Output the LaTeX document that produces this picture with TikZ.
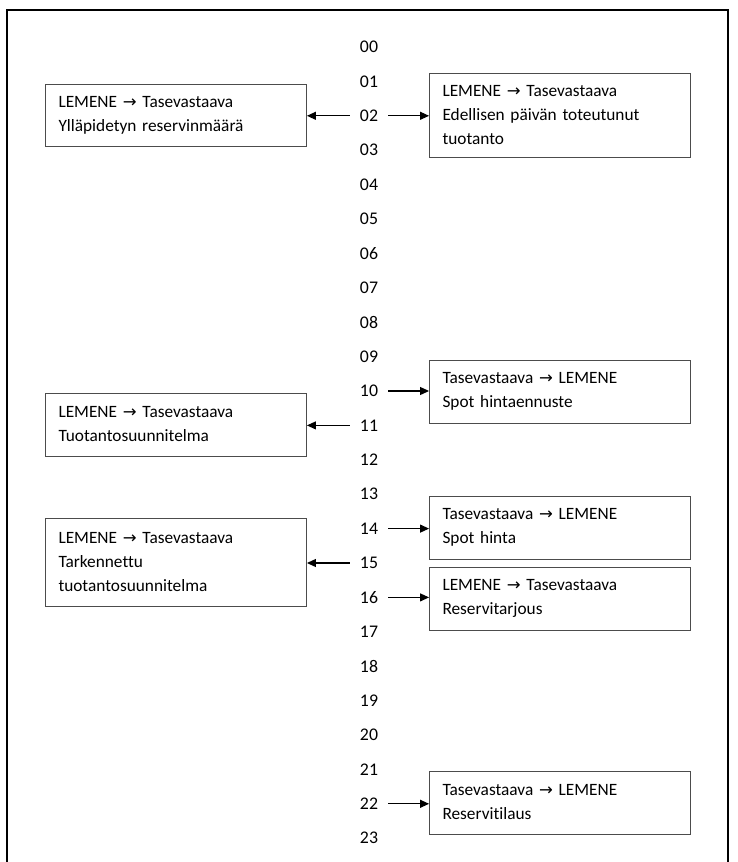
\documentclass[tikz,border=0pt]{standalone}
\usepackage{fontspec}
\setmainfont{Carlito}[Ligatures=NoCommon]
\newfontfamily\symf{DejaVu Sans}
\usetikzlibrary{arrows.meta}
\newcommand{\rarr}{{\symf\fontsize{16.5}{24}\selectfont →}}
\tikzset{
  box/.style={draw=black!70, line width=0.9pt, rectangle, text width=235pt,
    inner xsep=13pt, inner ysep=0pt, align=left, font=\fontsize{17.3}{24}\selectfont},
  num/.style={inner xsep=10pt, inner ysep=2pt, font=\fontsize{17.8}{20}\selectfont},
  arr/.style={-{Triangle[length=9pt,width=8pt]}, line width=1.1pt},
}
\begin{document}
\begin{tikzpicture}[x=1pt,y=-1pt]
\useasboundingbox (0,0) rectangle (737,862);
\draw[line width=1.3pt] (7,862) -- (7,10) -- (728,10) -- (728,862);
\foreach \i/\t in {0/00,1/01,2/02,3/03,4/04,5/05,6/06,7/07,8/08,9/09,10/10,11/11,12/12,13/13,14/14,15/15,16/16,17/17,18/18,19/19,20/20,21/21,22/22,23/23}
  \node[num] (n\t) at (369,47+34.4*\i) {\t};
\node[box, minimum height=62pt] (L1) at (176,115) {LEMENE \rarr{} Tasevastaava\\Ylläpidetyn reservinmäärä};
\node[box, minimum height=84pt] (R1) at (560,115) {LEMENE \rarr{} Tasevastaava\\Edellisen päivän toteutunut\\tuotanto};
\node[box, minimum height=63pt] (R10) at (560,391.5) {Tasevastaava \rarr{} LEMENE\\Spot hintaennuste};
\node[box, minimum height=63pt] (L11) at (176,424.5) {LEMENE \rarr{} Tasevastaava\\Tuotantosuunnitelma};
\node[box, minimum height=63pt] (R14) at (560,527.5) {Tasevastaava \rarr{} LEMENE\\Spot hinta};
\node[box, minimum height=88pt] (L15) at (176,562) {LEMENE \rarr{} Tasevastaava\\Tarkennettu\\tuotantosuunnitelma};
\node[box, minimum height=63pt] (R16) at (560,598.5) {LEMENE \rarr{} Tasevastaava\\Reservitarjous};
\node[box, minimum height=63pt] (R22) at (560,802.5) {Tasevastaava \rarr{} LEMENE\\Reservitilaus};
\draw[arr] (n02.west) -- (n02.west -| L1.east);
\draw[arr] (n02.east) -- (n02.east -| R1.west);
\draw[arr] (n10.east) -- (n10.east -| R10.west);
\draw[arr] (n11.west) -- (n11.west -| L11.east);
\draw[arr] (n14.east) -- (n14.east -| R14.west);
\draw[arr] (n15.west) -- (n15.west -| L15.east);
\draw[arr] (n16.east) -- (n16.east -| R16.west);
\draw[arr] (n22.east) -- (n22.east -| R22.west);
\end{tikzpicture}
\end{document}
